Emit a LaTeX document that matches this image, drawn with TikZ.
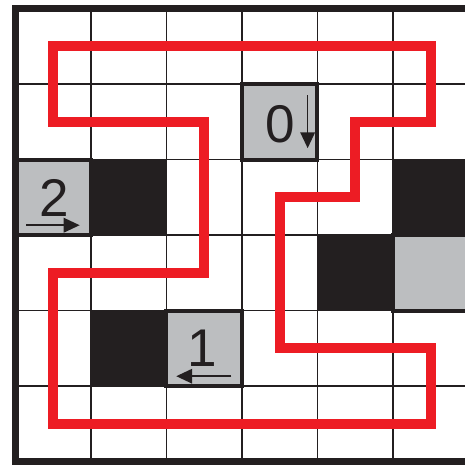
\documentclass[tikz,border=0pt]{standalone}
\usepackage{fontspec}
\setmainfont{Liberation Sans}
\usetikzlibrary{arrows.meta}
\definecolor{ink}{HTML}{231F20}
\definecolor{cluegray}{HTML}{BCBEC0}
\definecolor{loopred}{HTML}{ED1C24}
\begin{document}
\begin{tikzpicture}[x=1cm,y=-1cm,
  gridline/.style={draw=ink,line width=0.6pt},
  blackcell/.style={fill=ink},
  cluebox/.style={fill=cluegray,draw=ink,line width=1.5pt},
  frame/.style={draw=ink,line width=2.6pt},
  loopline/.style={draw=loopred,line width=3.8pt,line join=miter},
  digit/.style={inner sep=0pt,anchor=center,text=ink,font=\fontsize{20}{20}\selectfont},
  cluearrow/.style={draw=ink,line width=0.6pt,-{Triangle[length=6pt,width=5.5pt]}}]
\useasboundingbox (-0.205,-0.113) rectangle (5.954,6.033);
\clip (-0.205,-0.113) rectangle (5.954,6.033);
\fill[white] (-0.205,-0.113) rectangle (5.954,6.033);
\draw[gridline] (0,0) grid (6,6);
\fill[blackcell] (1,2) rectangle (2,3);
\fill[blackcell] (1,4) rectangle (2,5);
\fill[blackcell] (4,3) rectangle (5,4);
\fill[blackcell] (5,2) rectangle (6,3);
\path[cluebox] (3,1) rectangle (4,2);
\path[cluebox] (0,2) rectangle (1,3);
\path[cluebox] (2,4) rectangle (3,5);
\path[cluebox] (5,3) rectangle (6,4);
\draw[frame] (0,0) rectangle (6,6);
\draw[loopline] (0.5,0.5) -- (5.5,0.5) -- (5.5,1.5) -- (4.5,1.5) -- (4.5,2.5) -- (3.5,2.5) -- (3.5,4.5) -- (5.5,4.5) -- (5.5,5.5) -- (0.5,5.5) -- (0.5,3.5) -- (2.5,3.5) -- (2.5,1.5) -- (0.5,1.5) -- cycle;
\node[digit] (c0) at (3.51,1.53) {0};
\node[digit] (c2) at (0.51,2.51) {2};
\node[digit] (c1) at (2.47,4.50) {1};
\coordinate (a0s) at (3.87,1.15);
\coordinate (a0e) at (3.87,1.85);
\coordinate (a2s) at (0.14,2.87);
\coordinate (a2e) at (0.85,2.87);
\coordinate (a1s) at (2.86,4.87);
\coordinate (a1e) at (2.13,4.87);
\draw[cluearrow] (a0s) -- (a0e);
\draw[cluearrow] (a2s) -- (a2e);
\draw[cluearrow] (a1s) -- (a1e);
\end{tikzpicture}
\end{document}
